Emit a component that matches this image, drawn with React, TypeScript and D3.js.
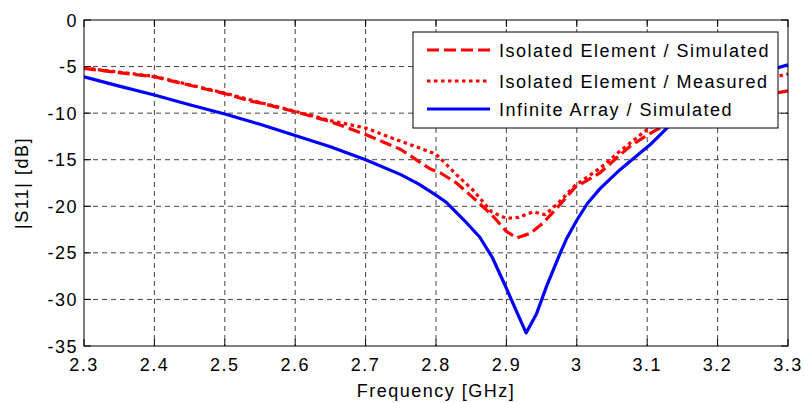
import React from "react";
import * as d3 from "d3";

const xTicks = [2.3, 2.4, 2.5, 2.6, 2.7, 2.8, 2.9, 3.0, 3.1, 3.2, 3.3];
const xTickLabels = ["2.3", "2.4", "2.5", "2.6", "2.7", "2.8", "2.9", "3", "3.1", "3.2", "3.3"];
const yTicks = [0, -5, -10, -15, -20, -25, -30, -35];
const yTickLabels = ["0", "-5", "-10", "-15", "-20", "-25", "-30", "-35"];

const seriesNames = [
  "Isolated Element / Simulated",
  "Isolated Element / Measured",
  "Infinite Array / Simulated",
];

const isoSimF = [2.3, 2.35, 2.4, 2.45, 2.5, 2.536, 2.55, 2.6, 2.65, 2.7, 2.75, 2.792, 2.806, 2.829, 2.853, 2.879, 2.9, 2.915, 2.934, 2.952, 2.974, 2.997, 3.033, 3.061, 3.075, 3.099, 3.113, 3.15, 3.2, 3.25, 3.3];
const isoSimDb = [-5.2, -5.65, -6.1, -7.0, -7.9, -8.7, -8.9, -9.85, -10.9, -12.3, -13.9, -16.0, -16.4, -17.5, -19.1, -20.9, -22.7, -23.4, -22.9, -21.8, -20.0, -18.0, -16.4, -14.5, -13.6, -12.4, -11.8, -10.5, -9.2, -8.3, -7.6];

const isoMeasF = [2.3, 2.35, 2.4, 2.45, 2.5, 2.55, 2.6, 2.65, 2.7, 2.749, 2.775, 2.8, 2.829, 2.853, 2.879, 2.9, 2.917, 2.938, 2.955, 2.973, 2.997, 3.033, 3.061, 3.099, 3.15, 3.2, 3.25, 3.3];
const isoMeasDb = [-5.15, -5.6, -6.05, -6.95, -7.85, -8.85, -9.8, -10.8, -11.6, -13.0, -13.7, -14.4, -16.6, -18.3, -20.6, -21.3, -21.2, -20.6, -20.9, -19.7, -17.8, -15.9, -14.1, -11.8, -9.5, -7.8, -6.6, -5.8];

const arrayF = [2.3, 2.35, 2.4, 2.45, 2.5, 2.55, 2.6, 2.65, 2.7, 2.75, 2.775, 2.8, 2.815, 2.84, 2.862, 2.88, 2.9, 2.915, 2.928, 2.943, 2.957, 2.976, 2.986, 3.0, 3.015, 3.033, 3.061, 3.08, 3.104, 3.128, 3.16, 3.2, 3.25, 3.3];
const arrayDb = [-6.1, -7.1, -8.05, -9.1, -10.1, -11.2, -12.4, -13.6, -15.0, -16.6, -17.6, -18.8, -19.6, -21.5, -23.3, -25.5, -28.8, -31.4, -33.6, -31.5, -28.6, -25.1, -23.4, -21.5, -19.7, -18.1, -16.1, -14.9, -13.4, -11.6, -9.4, -7.6, -5.9, -4.8];

const W = 805;
const H = 403;
const L = 84, R = 788, T = 20, B = 346;
const FONT = "Arial, 'Liberation Sans', Helvetica, sans-serif";
const FS = 18;
const LS = 1.5;

export default function App() {
  const x = d3.scaleLinear().domain([2.3, 3.3]).range([L, R]);
  const y = d3.scaleLinear().domain([-35, 0]).range([B, T]);
  const line = d3
    .line<[number, number]>()
    .x((d) => x(d[0]))
    .y((d) => y(d[1]));

  const series = [
    { f: isoSimF, v: isoSimDb, color: "#ff0000", dash: "12 5" },
    { f: isoMeasF, v: isoMeasDb, color: "#ff0000", dash: "3.5 3.5" },
    { f: arrayF, v: arrayDb, color: "#0000ff", dash: "none" },
  ];

  const tickLen = 7;
  const legX = 413, legY = 32, legW = 365, legH = 96;
  const rowY = [50, 81, 109];

  return (
    <svg
      width={W}
      height={H}
      style={{ position: "absolute", left: 0, top: 0, background: "#fff" }}
      fontFamily={FONT}
    >
      <rect x={0} y={0} width={W} height={H} fill="#fff" />
      <defs>
        <clipPath id="plotclip">
          <rect x={L} y={T} width={R - L} height={B - T} />
        </clipPath>
      </defs>
      {/* grid */}
      <g stroke="#444" strokeWidth={1} strokeDasharray="5 4">
        {xTicks.slice(1, -1).map((t) => (
          <line key={"gx" + t} x1={x(t)} x2={x(t)} y1={T} y2={B} />
        ))}
        {yTicks.slice(1, -1).map((t) => (
          <line key={"gy" + t} x1={L} x2={R} y1={y(t)} y2={y(t)} />
        ))}
      </g>
      {/* ticks */}
      <g stroke="#000" strokeWidth={1}>
        {xTicks.map((t) => (
          <g key={"tx" + t}>
            <line x1={x(t)} x2={x(t)} y1={B} y2={B - tickLen} />
            <line x1={x(t)} x2={x(t)} y1={T} y2={T + tickLen} />
          </g>
        ))}
        {yTicks.map((t) => (
          <g key={"ty" + t}>
            <line x1={L} x2={L + tickLen} y1={y(t)} y2={y(t)} />
            <line x1={R} x2={R - tickLen} y1={y(t)} y2={y(t)} />
          </g>
        ))}
      </g>
      {/* data */}
      <g clipPath="url(#plotclip)" fill="none">
        {series.map((s, i) => (
          <path
            key={i}
            d={line(s.f.map((f, j) => [f, s.v[j]] as [number, number])) || ""}
            stroke={s.color}
            strokeWidth={3.2}
            strokeDasharray={s.dash}
            strokeLinejoin="round"
          />
        ))}
      </g>
      {/* box */}
      <rect x={L} y={T} width={R - L} height={B - T} fill="none" stroke="#000" strokeWidth={1} />
      {/* tick labels */}
      <g fontSize={FS} fill="#000" letterSpacing={LS}>
        {xTicks.map((t, i) => (
          <text key={"lx" + t} x={x(t)} y={371} textAnchor="middle">
            {xTickLabels[i]}
          </text>
        ))}
        {yTicks.map((t, i) => (
          <text key={"ly" + t} x={78} y={y(t) + 6.5} textAnchor="end">
            {yTickLabels[i]}
          </text>
        ))}
        <text x={(L + R) / 2} y={397} textAnchor="middle">
          Frequency [GHz]
        </text>
        <text transform={`translate(28, ${(T + B) / 2}) rotate(-90)`} textAnchor="middle">
          |S11| [dB]
        </text>
      </g>
      {/* legend */}
      <rect x={legX} y={legY} width={legW} height={legH} fill="#fff" stroke="#000" strokeWidth={1} />
      {series.map((s, i) => (
        <g key={"leg" + i}>
          <line
            x1={427}
            x2={490}
            y1={rowY[i]}
            y2={rowY[i]}
            stroke={s.color}
            strokeWidth={3.2}
            strokeDasharray={s.dash}
          />
          <text x={499} y={rowY[i] + 6.5} fontSize={FS} letterSpacing={LS} fill="#000">
            {seriesNames[i]}
          </text>
        </g>
      ))}
    </svg>
  );
}
